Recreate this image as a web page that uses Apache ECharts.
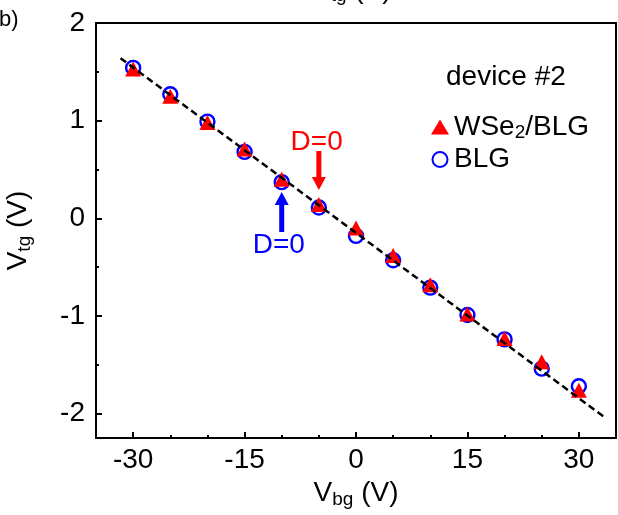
<!DOCTYPE html>
<html><head><meta charset="utf-8">
<script src="https://cdn.jsdelivr.net/npm/echarts@6/dist/echarts.min.js"></script>
<style>html,body{margin:0;padding:0;background:#fff}#c{width:618px;height:515px}</style>
</head><body><div id="c"></div>
<script>
const vbg = [-30,-25,-20,-15,-10,-5,0,5,10,15,20,25,30];
const vtgWSe2 = [1.53,1.25,0.98,0.71,0.40,0.14,-0.10,-0.38,-0.68,-0.98,-1.23,-1.47,-1.76];
const vtgBLG  = [1.54,1.27,0.99,0.68,0.37,0.11,-0.18,-0.43,-0.71,-0.99,-1.24,-1.54,-1.72];
const fitX = [-31.7, 33.5];
const fitY = [1.64, -2.04];
const xTicks = [-30,-15,0,15,30];
const xMinor = [-35,-25,-20,-10,-5,5,10,20,25];
const yTicks = [-2,-1,0,1,2];
const yMinor = [-1.5,-0.5,0.5,1.5];
// arrows: [x, yTail, yTip]
const arrowRed = [-5, 0.69, 0.29];
const arrowBlue = [-10, -0.14, 0.27];
// labels: [x, y, text]
const labelRed = [-5.3, 0.78, 'D=0'];
const labelBlue = [-10.4, -0.275, 'D=0'];

const FONT = '"Liberation Sans", Arial, sans-serif';
const FS = 28;
const FSUB = 19;
const chart = echarts.init(document.getElementById('c'));
const zipPts = (xs, ys) => xs.map((x,i)=>[x, ys[i]]);

function arrowItem(params, api){
  const p0 = api.coord([api.value(0), api.value(1)]);
  const p1 = api.coord([api.value(0), api.value(2)]);
  const color = api.value(3) === 0 ? '#ff0000' : '#0000ff';
  const dir = p1[1] > p0[1] ? 1 : -1;
  const headL = 13, headW = 7, shaftW = 2.5;
  const x = p0[0];
  const hb = p1[1] - dir*headL;
  return {type:'polygon', shape:{points:[
    [x-shaftW, p0[1]],[x+shaftW,p0[1]],[x+shaftW,hb],[x+headW,hb],[x,p1[1]],[x-headW,hb],[x-shaftW,hb]
  ]}, style:{fill:color}};
}

const richV = {
  v:{fontSize:FS, fontFamily:FONT, color:'#000'},
  s:{fontSize:FSUB, fontFamily:FONT, color:'#000', verticalAlign:'bottom', padding:[12,0,0,0]}
};

chart.setOption({
  animation:false,
  backgroundColor:'#fff',
  grid:{left:96, right:2, top:23, bottom:77, show:true, borderColor:'#000', borderWidth:2,
    backgroundColor:'transparent', containLabel:false, outerBoundsMode:'none'},
  graphic:[
    {type:'text', left:-1, top:9, style:{text:'b)', font:'22px '+FONT, fill:'#000'}},
    {type:'text', left:446, top:63, style:{text:'device #2', font:FS+'px '+FONT, fill:'#000'}},
    {type:'text', left:312, top:-24, style:{text:'{v|V}{s|tg}{v| (V)}', rich:richV}}
  ],
  legend:{
    orient:'vertical', left:426, top:108, itemGap:3, itemWidth:18, itemHeight:15,
    data:['WSe2/BLG','BLG'],
    textStyle:{fontSize:FS, fontFamily:FONT, color:'#000',
      rich:{n:{fontSize:FS,fontFamily:FONT,color:'#000'}, s:{fontSize:FSUB,fontFamily:FONT,color:'#000',verticalAlign:'bottom',padding:[12,0,0,0]}}},
    formatter: n => n==='WSe2/BLG' ? '{n|WSe}{s|2}{n|/BLG}' : '{n|BLG}'
  },
  xAxis:[{
    type:'value', min:-35, max:35, position:'bottom',
    name:'{v|V}{s|bg}{v| (V)}', nameLocation:'middle', nameGap:40,
    nameTextStyle:{rich:richV},
    axisLine:{onZero:false, lineStyle:{color:'#000', width:2}},
    axisTick:{inside:true, length:6, lineStyle:{width:2,color:'#000'}, customValues:xTicks},
    axisLabel:{fontSize:FS, fontFamily:FONT, color:'#000', margin:8, customValues:xTicks},
    splitLine:{show:false}
  },{
    type:'value', min:-35, max:35, position:'bottom',
    axisLine:{show:false, onZero:false}, axisLabel:{show:false}, splitLine:{show:false},
    axisTick:{inside:true, length:3, lineStyle:{width:2,color:'#000'}, customValues:xMinor}
  }],
  yAxis:[{
    type:'value', min:-2.25, max:2, position:'left',
    name:'{v|V}{s|tg}{v| (V)}', nameLocation:'middle', nameGap:62, nameRotate:90,
    nameTextStyle:{rich:richV},
    axisLine:{onZero:false, lineStyle:{color:'#000', width:2}},
    axisTick:{inside:true, length:6, lineStyle:{width:2,color:'#000'}, customValues:yTicks},
    axisLabel:{fontSize:FS, fontFamily:FONT, color:'#000', margin:11, customValues:yTicks},
    splitLine:{show:false}
  },{
    type:'value', min:-2.25, max:2, position:'left',
    axisLine:{show:false, onZero:false}, axisLabel:{show:false}, splitLine:{show:false},
    axisTick:{inside:true, length:3, lineStyle:{width:2,color:'#000'}, customValues:yMinor}
  }],
  series:[
    {name:'fit', type:'line', data:zipPts(fitX, fitY), symbol:'none',
      lineStyle:{color:'#000', width:2.5, type:[7,4]}, z:3},
    {name:'BLG', type:'scatter', data:zipPts(vbg, vtgBLG), symbol:'circle', symbolSize:14,
      itemStyle:{color:'rgba(255,255,255,0)', borderColor:'#0000ff', borderWidth:2.4, opacity:1}, z:2},
    {name:'WSe2/BLG', type:'scatter', data:zipPts(vbg, vtgWSe2), symbol:'triangle', symbolSize:[16,15],
      itemStyle:{color:'#ff0000', opacity:1}, z:2},
    {name:'arrows', type:'custom', renderItem:arrowItem,
      data:[[arrowRed[0],arrowRed[1],arrowRed[2],0],[arrowBlue[0],arrowBlue[1],arrowBlue[2],1]], z:4},
    {name:'labels', type:'scatter', symbolSize:0, z:5, itemStyle:{opacity:1},
      data:[
        {value:[labelRed[0],labelRed[1]], label:{show:true, formatter:labelRed[2], color:'#ff0000'}},
        {value:[labelBlue[0],labelBlue[1]], label:{show:true, formatter:labelBlue[2], color:'#0000ff'}}
      ],
      label:{position:'inside', fontSize:FS, fontFamily:FONT}}
  ]
});
</script></body></html>
